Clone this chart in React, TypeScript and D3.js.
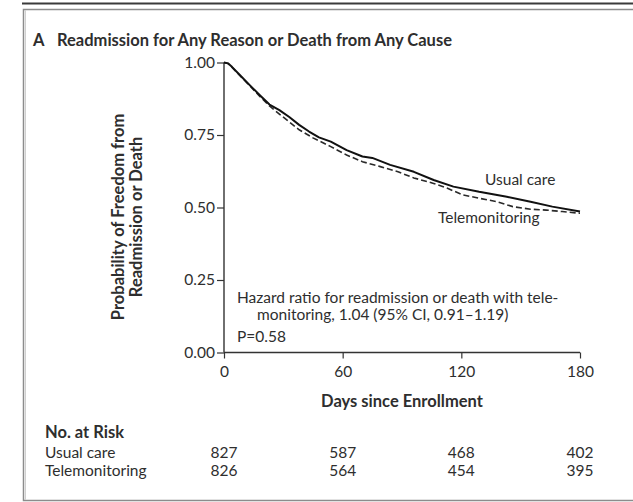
import React, { useEffect, useRef } from "react";
import * as d3 from "d3";

// Kaplan–Meier estimates (day, probability of freedom from readmission or death)
const usualCareDays = [0, 2, 4, 8, 13, 18, 23, 28, 33, 38, 43, 48, 54, 62, 70, 75, 84, 96, 106, 116, 129, 143, 155, 166, 180];
const usualCareSurv = [1.0, 0.997, 0.985, 0.957, 0.922, 0.888, 0.855, 0.836, 0.812, 0.785, 0.762, 0.742, 0.727, 0.698, 0.676, 0.671, 0.647, 0.623, 0.595, 0.572, 0.554, 0.537, 0.52, 0.503, 0.486];

const teleDays = [0, 2, 4, 8, 13, 18, 23, 28, 33, 38, 45, 54, 62, 70, 79, 88, 96, 106, 113, 121, 129, 138, 146, 155, 163, 171, 180];
const teleSurv = [1.0, 0.997, 0.984, 0.955, 0.92, 0.884, 0.85, 0.822, 0.795, 0.768, 0.74, 0.71, 0.681, 0.658, 0.641, 0.623, 0.602, 0.583, 0.566, 0.543, 0.532, 0.52, 0.503, 0.494, 0.491, 0.486, 0.48];

const xTicks = [0, 60, 120, 180];
const yTicks = [0, 0.25, 0.5, 0.75, 1.0];

const riskDays = [0, 60, 120, 180];
const riskUsual = [827, 587, 468, 402];
const riskTele = [826, 564, 454, 395];

const W = 633;
const H = 502;
const FONT = "Lato, 'Open Sans', sans-serif";
const INK = "#2e2e2e";
const FS = 15.5; // regular text size
const FB = 16.5; // bold heading size

export default function App() {
  const ref = useRef<SVGSVGElement | null>(null);

  useEffect(() => {
    const svg = d3.select(ref.current);
    svg.selectAll("*").remove();

    const x = d3.scaleLinear().domain([0, 180]).range([224, 580]);
    const y = d3.scaleLinear().domain([0, 1]).range([352.5, 62.5]);

    // frame
    svg.append("line").attr("x1", 22).attr("x2", W).attr("y1", 3.5).attr("y2", 3.5)
      .attr("stroke", "#3a3a3a").attr("stroke-width", 2);
    svg.append("path").attr("d", `M${W},9.5 H23.5 V500.5 H${W}`)
      .attr("fill", "none").attr("stroke", "#8c8c8c").attr("stroke-width", 1.5);
    svg.append("line").attr("x1", 25.5).attr("x2", 25.5).attr("y1", 10).attr("y2", 500)
      .attr("stroke", "#d0d0d0").attr("stroke-width", 1);

    // title
    const title = svg.append("text").attr("y", 46)
      .attr("font-family", FONT).attr("font-weight", 700).attr("font-size", FB).attr("fill", INK);
    title.append("tspan").attr("x", 33).text("A");
    title.append("tspan").attr("x", 57).text("Readmission for Any Reason or Death from Any Cause");

    // axes
    const axisColor = "#333";
    const yAxis = svg.append("g").attr("transform", `translate(${x(0)},0)`)
      .call(d3.axisLeft(y).tickValues(yTicks).tickFormat(d3.format(".2f")).tickSize(7).tickPadding(2));
    const xAxis = svg.append("g").attr("transform", `translate(0,${y(0)})`)
      .call(d3.axisBottom(x).tickValues(xTicks).tickSize(6).tickPadding(7));
    [yAxis, xAxis].forEach((g) => {
      g.select(".domain").attr("stroke", axisColor).attr("stroke-width", 1.4);
      g.selectAll(".tick line").attr("stroke", axisColor).attr("stroke-width", 1.2);
      g.selectAll(".tick text").attr("font-family", FONT).attr("font-size", FS).attr("fill", INK);
    });
    yAxis.select(".domain").attr("d", `M0,${y(1)}V${y(0)}`);
    xAxis.select(".domain").attr("d", `M${x(0)},0H${x(180)}`);

    // y-axis title
    const yt = svg.append("text")
      .attr("transform", `translate(0,217) rotate(-90)`)
      .attr("text-anchor", "middle").attr("font-family", FONT).attr("font-weight", 700)
      .attr("font-size", FB).attr("fill", INK);
    yt.append("tspan").attr("x", 0).attr("y", 124).text("Probability of Freedom from");
    yt.append("tspan").attr("x", 0).attr("y", 142).text("Readmission or Death");

    // x-axis title
    svg.append("text").attr("x", x(90)).attr("y", 407).attr("text-anchor", "middle")
      .attr("font-family", FONT).attr("font-weight", 700).attr("font-size", FB).attr("fill", INK)
      .text("Days since Enrollment");

    // curves
    const line = d3.line<[number, number]>().x((d) => x(d[0])).y((d) => y(d[1])).curve(d3.curveLinear);
    const usual = usualCareDays.map((d, i) => [d, usualCareSurv[i]] as [number, number]);
    const tele = teleDays.map((d, i) => [d, teleSurv[i]] as [number, number]);

    svg.append("path").attr("d", line(tele)).attr("fill", "none").attr("stroke", "#2a2a2a")
      .attr("stroke-width", 1.6).attr("stroke-dasharray", "6,3");
    svg.append("path").attr("d", line(usual)).attr("fill", "none").attr("stroke", "#111")
      .attr("stroke-width", 2).attr("stroke-linejoin", "round");

    // text helper
    const lab = (t: string, xx: number, yy: number, anchor = "start") =>
      svg.append("text").attr("x", xx).attr("y", yy).attr("text-anchor", anchor)
        .attr("font-family", FONT).attr("font-size", FS).attr("fill", INK).text(t);

    // curve labels
    lab("Usual care", 485, 185);
    lab("Telemonitoring", 438, 223);

    // hazard ratio annotation
    lab("Hazard ratio for readmission or death with tele-", 237, 303);
    lab("monitoring, 1.04 (95% CI, 0.91\u20131.19)", 257, 320);
    lab("P=0.58", 237, 342);

    // number at risk table
    svg.append("text").attr("x", 45).attr("y", 438).attr("font-family", FONT)
      .attr("font-weight", 700).attr("font-size", FB).attr("fill", INK).text("No. at Risk");
    lab("Usual care", 45, 458);
    lab("Telemonitoring", 45, 476);
    riskDays.forEach((d, i) => {
      lab(String(riskUsual[i]), x(d), 458, "middle");
      lab(String(riskTele[i]), x(d), 476, "middle");
    });
  }, []);

  return (
    <svg ref={ref} width={W} height={H}
      style={{ position: "fixed", left: 0, top: 0, background: "#fff" }} />
  );
}
